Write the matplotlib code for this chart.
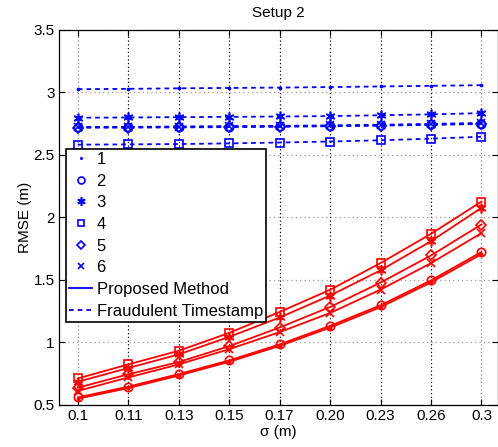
import numpy as np
import matplotlib
matplotlib.use('Agg')
import matplotlib.pyplot as plt
from matplotlib.lines import Line2D
from matplotlib.ticker import FixedLocator, FixedFormatter, NullLocator

plt.rcParams['font.family'] = ['Liberation Sans', 'DejaVu Sans']

# noise level (log spaced) and tick labels
sigma = [0.1, 0.1147, 0.1316, 0.1510, 0.1732, 0.1987, 0.2280, 0.2616, 0.3]
sigma_labels = ['0.1', '0.11', '0.13', '0.15', '0.17', '0.20', '0.23', '0.26', '0.3']

series_names = ['1', '2', '3', '4', '5', '6']
series_markers = ['.', 'o', (6, 2, 0), 's', 'D', 'x']
series_sizes = [3, 6, 7, 6, 5, 6]

# RMSE of proposed method, per series
proposed = [
    [0.550, 0.635, 0.735, 0.845, 0.972, 1.118, 1.282, 1.480, 1.705],
    [0.561, 0.646, 0.747, 0.856, 0.984, 1.132, 1.297, 1.496, 1.722],
    [0.686, 0.795, 0.904, 1.044, 1.199, 1.374, 1.576, 1.809, 2.075],
    [0.712, 0.824, 0.933, 1.076, 1.243, 1.420, 1.634, 1.868, 2.125],
    [0.638, 0.745, 0.843, 0.970, 1.119, 1.283, 1.478, 1.695, 1.942],
    [0.612, 0.720, 0.824, 0.946, 1.082, 1.235, 1.422, 1.634, 1.873],
]

# RMSE with fraudulent timestamp, per series
fraudulent = [
    [3.023, 3.026, 3.030, 3.033, 3.036, 3.040, 3.045, 3.050, 3.055],
    [2.720, 2.721, 2.723, 2.725, 2.727, 2.730, 2.735, 2.741, 2.748],
    [2.795, 2.797, 2.800, 2.802, 2.805, 2.808, 2.815, 2.822, 2.832],
    [2.580, 2.582, 2.585, 2.590, 2.597, 2.605, 2.615, 2.628, 2.643],
    [2.715, 2.716, 2.718, 2.720, 2.723, 2.727, 2.732, 2.738, 2.745],
    [2.720, 2.722, 2.724, 2.727, 2.730, 2.734, 2.739, 2.746, 2.754],
]

fig = plt.figure(figsize=(4.98, 4.47), dpi=100)
ax = fig.add_axes([0.118, 0.094, 0.881, 0.840])
ax.set_xscale('log')

# grid: vertical dotted dark, horizontal dotted grey
for i, s in enumerate(sigma):
    c = '0.55' if i in (0, len(sigma) - 1) else 'black'
    ax.axvline(s, color=c, ls=(0, (1, 2)), lw=0.9, zorder=0)
ax.yaxis.grid(True, color='0.6', ls=(0, (1, 2.5)), lw=0.9)

for k in range(len(series_names)):
    m = series_markers[k]
    ms = series_sizes[k]
    ax.plot(sigma, proposed[k], color='red', ls='-', lw=1.3,
            marker=m, ms=ms, mfc='none', mec='red', mew=1.2)
    ax.plot(sigma, fraudulent[k], color='blue', ls='--', dashes=(2.6, 2.2), lw=1.3,
            marker=m, ms=ms, mfc='none', mec='blue', mew=1.2)

ax.set_xlim(0.09495, 0.3134)
ax.set_ylim(0.5, 3.5)
ax.xaxis.set_major_locator(FixedLocator(sigma))
ax.xaxis.set_major_formatter(FixedFormatter(sigma_labels))
ax.xaxis.set_minor_locator(NullLocator())
ax.set_yticks(np.arange(0.5, 3.51, 0.5))
ax.set_yticklabels(['0.5', '1', '1.5', '2', '2.5', '3', '3.5'])
ax.tick_params(direction='in', length=4, width=0.8, labelsize=11,
               top=True, right=True, pad=3)
for sp in ax.spines.values():
    sp.set_linewidth(0.9)

ax.set_xlabel('σ (m)', fontsize=11, labelpad=1)
ax.set_ylabel('RMSE (m)', fontsize=11, labelpad=1)
ax.set_title('Setup 2', fontsize=11, pad=9)

handles = []
for k in range(len(series_names)):
    handles.append(Line2D([], [], color='blue', ls='none', marker=series_markers[k],
                          ms=series_sizes[k] - 1, mfc='none', mec='blue', mew=1.2))
handles.append(Line2D([], [], color='blue', ls='-', lw=1.3))
handles.append(Line2D([], [], color='blue', ls='--', dashes=(2.6, 2.2), lw=1.3))
labels = series_names + ['Proposed Method', 'Fraudulent Timestamp']

leg = ax.legend(handles, labels, loc='upper left', bbox_to_anchor=(0.016, 0.683),
                fontsize=12, frameon=True, fancybox=False, framealpha=1,
                edgecolor='black', borderpad=0.2, labelspacing=0.4,
                handlelength=1.4, handletextpad=0.25, borderaxespad=0)
leg.get_frame().set_linewidth(1.2)

fig.savefig('out.png', dpi=100)
